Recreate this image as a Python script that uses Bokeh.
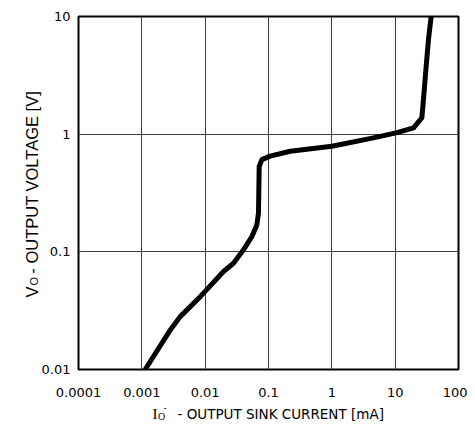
import math
from bokeh.plotting import figure
from bokeh.models import FixedTicker, PrintfTickFormatter, Label
from bokeh.embed import file_html
from bokeh.resources import INLINE

# ---- data ----
sink_current_mA = [0.00113, 0.0028, 0.0040, 0.00836, 0.0195, 0.028, 0.0403, 0.0547,
                   0.0656, 0.0695, 0.0713, 0.0787, 0.106, 0.22, 1.0, 4.55, 10.7,
                   19.5, 26.4, 28.0, 30.9, 33.6, 37.0]
output_voltage_V = [0.01, 0.0216, 0.028, 0.0416, 0.068, 0.080, 0.104, 0.135,
                    0.170, 0.214, 0.533, 0.608, 0.65, 0.716, 0.79, 0.93, 1.03,
                    1.13, 1.38, 1.98, 3.8, 6.4, 10.0]

x_ticks = [0.0001, 0.001, 0.01, 0.1, 1, 10, 100]
x_tick_labels = ["0.0001", "0.001", "0.01", "0.1", "1", "10", "100"]
y_ticks = [0.01, 0.1, 1, 10]
y_tick_labels = ["0.01", "0.1", "1", "10"]

TICK_FONT = "DejaVu Sans"

p = figure(frame_width=380, frame_height=353, x_axis_type="log", y_axis_type="log",
           x_range=(x_ticks[0], x_ticks[-1]), y_range=(y_ticks[0], y_ticks[-1]),
           output_backend="svg", toolbar_location=None,
           min_border_left=78, min_border_right=9, min_border_top=16, min_border_bottom=58)
p.background_fill_color = "white"
p.border_fill_color = "white"
p.outline_line_color = "black"
p.outline_line_width = 2

for ax, ticks, labels in ((p.xaxis[0], x_ticks, x_tick_labels), (p.yaxis[0], y_ticks, y_tick_labels)):
    ax.ticker = FixedTicker(ticks=ticks, minor_ticks=[])
    ax.formatter = PrintfTickFormatter(format="%g")
    ax.major_label_overrides = dict(zip(ticks, labels))
    ax.major_tick_out = 0
    ax.major_tick_in = 0
    ax.minor_tick_out = 0
    ax.minor_tick_in = 0
    ax.axis_line_color = None
    ax.major_label_text_font = TICK_FONT
    ax.major_label_text_font_size = "13px"
    ax.major_label_text_color = "black"

p.xaxis.major_label_standoff = 18
p.yaxis.major_label_standoff = 8

p.xgrid[0].ticker = FixedTicker(ticks=x_ticks, minor_ticks=[])
p.ygrid[0].ticker = FixedTicker(ticks=y_ticks, minor_ticks=[])
for g in (p.xgrid[0], p.ygrid[0]):
    g.grid_line_color = "#404040"
    g.grid_line_width = 1

p.line(sink_current_mA, output_voltage_V, line_color="black", line_width=5,
       line_join="round", line_cap="round")

# ---- axis titles, placed in the side panels (canvas pixel units) ----
YF = "Liberation Sans"
rot = math.pi / 2
def lab(side, x, y, text, font, size, angle=0.0):
    p.add_layout(Label(x=x, y=y, x_units="canvas", y_units="canvas", text=text, angle=angle,
                       text_font=font, text_font_size=size, text_align="left",
                       text_baseline="alphabetic", text_color="black"), side)

# V_O - OUTPUT VOLTAGE [V] (rotated); the gap after "V" leaves room for the subscript
lab("left", 31, 297, "V\u2002\u00a0- OUTPUT VOLTAGE [V]", YF, "16.5px", rot)
lab("above", 33, 285, "O", YF, "11px", rot)

# I_O^- - OUTPUT SINK CURRENT [mA]
lab("left", 152, 413, "I", "Liberation Serif", "15px")
lab("left", 157.5, 416, "O", "Liberation Serif", "10px")
lab("left", 163, 407, "-", TICK_FONT, "9px")
lab("below", 177, 413, "- OUTPUT SINK CURRENT [mA]", TICK_FONT, "13.5px")

open("out.html", "w").write(file_html(p, INLINE))
